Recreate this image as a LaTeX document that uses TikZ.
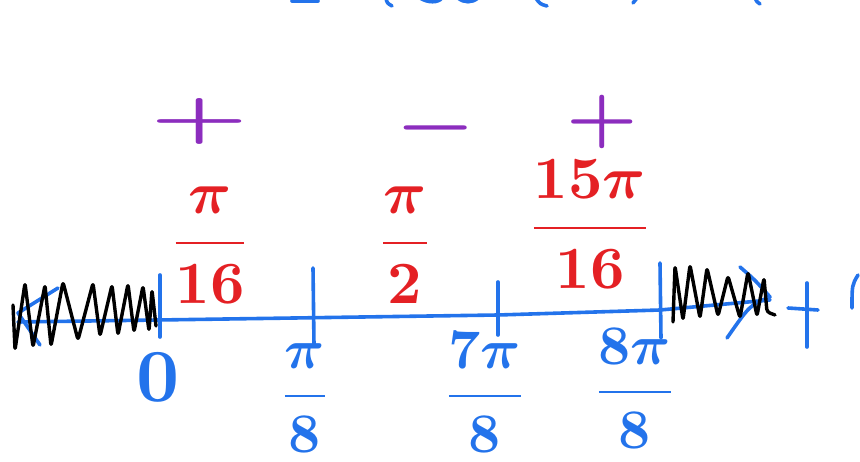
\documentclass[tikz,border=0pt]{standalone}
\usepackage{graphicx}
\definecolor{inkblue}{RGB}{35,115,235}
\definecolor{inkred}{RGB}{228,32,36}
\definecolor{inkpurple}{RGB}{140,45,190}
\tikzset{
  bluestroke/.style={draw=inkblue,line width=3.6pt,line cap=round,line join=round},
  blackstroke/.style={draw=black,line width=3.4pt,line cap=round,line join=round},
  redlabel/.style={text=inkred,inner sep=0pt,anchor=base},
  bluelabel/.style={text=inkblue,inner sep=0pt,anchor=base},
  signlabel/.style={text=inkpurple,inner sep=0pt},
}
\newcommand{\bigfrac}[2]{\scalebox{6}{\boldmath$\displaystyle\frac{#1}{#2}$}}
\newcommand{\lowfrac}[2]{\scalebox{5.6}{\boldmath$\displaystyle\frac{#1}{#2}$}}
\begin{document}
\begin{tikzpicture}[x=1pt,y=-1pt]
\useasboundingbox (0,0) rectangle (860,462);
% partial strokes at the top edge
\draw[bluestroke] (292,1) -- (318,1);
\draw[bluestroke] (386,-2) .. controls (387,3) .. (392,6);
\draw[bluestroke] (420,-2) .. controls (428,3) and (438,3) .. (442,-2);
\draw[bluestroke] (458,-2) .. controls (464,3) and (472,3) .. (478,-2);
\draw[bluestroke] (535,-3) .. controls (540,4) .. (547,6);
\draw[bluestroke] (633,3) -- (637,-2);
\draw[bluestroke] (755,-2) .. controls (757,2) .. (760,4);
% axis
\coordinate (axL) at (18,322);
\coordinate (axR) at (770,300);
\draw[bluestroke] (axL) -- (158,320) -- (498,315) -- (660,310) -- (axR);
% arrowheads
\coordinate (lhA) at (58,288);
\coordinate (lhB) at (18,313);
\coordinate (lhC) at (40,345);
\draw[bluestroke] (lhA) -- (lhB) -- (lhC);
\coordinate (rhA) at (740,267);
\coordinate (rhB) at (770,297);
\coordinate (rhC) at (727,338);
\draw[bluestroke] (rhA) .. controls (755,280) .. (rhB) .. controls (750,305) .. (rhC);
% ticks
\coordinate (t0a) at (160,275); \coordinate (t0b) at (160,337);
\coordinate (t1a) at (313,268); \coordinate (t1b) at (314,345);
\coordinate (t2a) at (498,282); \coordinate (t2b) at (498,335);
\coordinate (t3a) at (660,263); \coordinate (t3b) at (661,338);
\draw[bluestroke] (t0a) -- (t0b);
\draw[bluestroke] (t1a) -- (t1b);
\draw[bluestroke] (t2a) -- (t2b);
\draw[bluestroke] (t3a) -- (t3b);
% plus and parenthesis at right edge
\coordinate (pa) at (807,283); \coordinate (pb) at (807,347);
\coordinate (pc) at (788,308); \coordinate (pd) at (818,310);
\draw[bluestroke] (pa) -- (pb);
\draw[bluestroke] (pc) -- (pd);
\coordinate (ba) at (858,275); \coordinate (bb) at (852,308);
\draw[bluestroke] (ba) .. controls (852,285) .. (bb);
% zigzags
\draw[blackstroke,rounded corners=3pt] (13,305) -- (15,350) -- (25,283) -- (33,347) -- (45,285) -- (51,346)
  -- (63,282) -- (78,340) -- (93,283) -- (100,336) -- (112,285) -- (118,335) -- (128,284)
  -- (134,332) -- (143,286) -- (149,331) -- (152,290) -- (156,326);
\draw[blackstroke,rounded corners=3pt] (673,322) -- (675,266) -- (683,320) -- (690,265) -- (700,318)
  -- (707,268) -- (718,316) -- (728,276) -- (740,318) -- (748,272) -- (757,316) -- (764,278)
  -- (767,312) -- (775,315);
% signs
\node[signlabel] (s1) at (200,122) {\scalebox{11}[6]{\boldmath$+$}};
\node[signlabel] (s2) at (436,128) {\scalebox{9}[7]{\boldmath$-$}};
\node[signlabel] (s3) at (602,122) {\scalebox{8}[7]{\boldmath$+$}};
% red labels
\node[redlabel] (r1) at (210,258) {\bigfrac{\pi}{16}};
\node[redlabel] (r2) at (405,258) {\bigfrac{\pi}{2}};
\node[redlabel] (r3) at (590,243) {\bigfrac{15\pi}{16}};
% blue labels
\node[bluelabel] (b0) at (158,402) {\scalebox{7.5}{\boldmath$0$}};
\node[bluelabel] (b1) at (305,410) {\lowfrac{\pi}{8}};
\node[bluelabel] (b2) at (485,410) {\lowfrac{7\pi}{8}};
\node[bluelabel] (b3) at (635,406) {\lowfrac{8\pi}{8}};
\end{tikzpicture}
\end{document}
